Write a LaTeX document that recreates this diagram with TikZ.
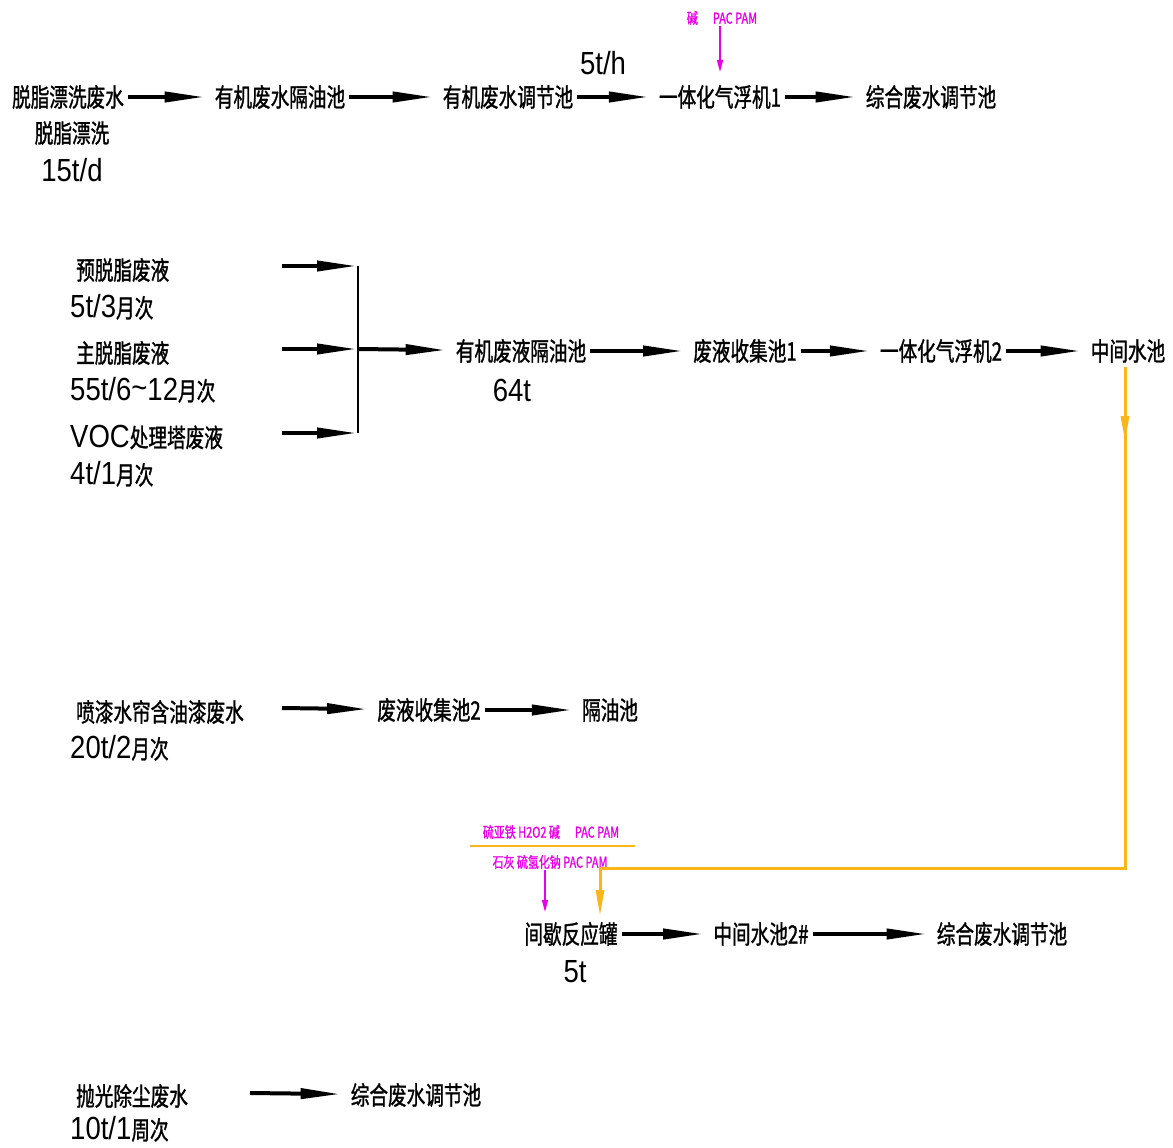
\documentclass[tikz,border=0pt]{standalone}
\usepackage{fontspec}
\usepackage{xcolor}
\usepackage{tikz}
\usetikzlibrary{arrows.meta,positioning,calc}
\newfontfamily\cjk{Noto Sans CJK SC}[FakeStretch=0.73, FakeBold=1.2]
\newfontfamily\cad{Liberation Sans}[FakeStretch=0.86]
\definecolor{dose}{RGB}{232,0,232}
\definecolor{cheng}{RGB}{250,182,24}
% quantities in the thin narrow figures
\newcommand{\amt}[1]{{\fontsize{32}{34}\selectfont\cad #1}}

\begin{document}
\begin{tikzpicture}[x=1pt, y=-1pt,
    every node/.style={font=\cjk\fontsize{25.5}{28}\selectfont, inner sep=4pt},
    flow/.style={line width=4pt, shorten >=6pt, -{Triangle[length=40pt,width=10pt]}},
    oline/.style={cheng, line width=3pt},
    otip/.style={-{Triangle[length=26pt,width=8pt]}},
    dosing/.style={dose, line width=1.5pt, -{Triangle[length=12pt,width=6pt]}},
    chem/.style={dose, font=\cjk\fontsize{15}{17}\selectfont, inner sep=1pt}]
  \useasboundingbox (0,0) rectangle (1173,1148);

  % degreasing rinse line
  \node (rinse) at (68,97) {脱脂漂洗废水};
  \node at (72,133) {脱脂漂洗};
  \node at (72,170) {\amt{15t/d}};
  \node (sep1) at (280,97) {有机废水隔油池};
  \node (eq1) at (508,97) {有机废水调节池};
  \node (flot1) at (720,97) {一体化气浮机1};
  \node (mix1) at (931,97) {综合废水调节池};
  \node at (603,63) {\amt{5t/h}};
  \node[chem] (ch1) at (722,18) {碱\quad PAC PAM};
  \coordinate (d1) at (720,72);
  \draw[flow] (rinse) -- (sep1);
  \draw[flow] (sep1) -- (eq1);
  \draw[flow] (eq1) -- (flot1);
  \draw[flow] (flot1) -- (mix1);
  \draw[dosing] (ch1.south -| d1) -- (d1);

  % spent degreasing baths
  \node[anchor=west] (pre) at (72,270) {预脱脂废液};
  \node[anchor=west] at (66,307) {\amt{5t/3}月次};
  \node[anchor=west] (main) at (72,353) {主脱脂废液};
  \node[anchor=west] at (66,390) {\amt{55t/6\raisebox{2pt}{\char"007E}12}月次};
  \node[anchor=west] (voc) at (66,437) {\amt{VOC}处理塔废液};
  \node[anchor=west] at (66,474) {\amt{4t/1}月次};
  \coordinate (s1) at (282,266);
  \coordinate (s2) at (282,349);
  \coordinate (s3) at (282,433);
  \coordinate (j1) at (358,266);
  \coordinate (j2) at (358,349);
  \coordinate (j3) at (358,433);
  \draw[flow, shorten >=1pt] (s1) -- (j1);
  \draw[flow, shorten >=1pt] (s2) -- (j2);
  \draw[flow, shorten >=1pt] (s3) -- (j3);
  \draw[line width=2.5pt] (j1) -- (j3);
  \node (sep2) at (521,351) {有机废液隔油池};
  \node at (512,390) {\amt{64t}};
  \node (col1) at (745,351) {废液收集池1};
  \node (flot2) at (941,351) {一体化气浮机2};
  \node (mid) at (1128,351) {中间水池};
  \draw[flow] (j2) -- (sep2);
  \draw[flow] (sep2) -- (col1);
  \draw[flow] (col1) -- (flot2);
  \draw[flow] (flot2) -- (mid);

  % paint booth water
  \node[anchor=west] (paint) at (72,712) {喷漆水帘含油漆废水};
  \node[anchor=west] at (66,748) {\amt{20t/2}月次};
  \coordinate (s4) at (282,708);
  \node (col2) at (429,710) {废液收集池2};
  \node (sep3) at (610,710) {隔油池};
  \draw[flow] (s4) -- (col2);
  \draw[flow] (col2) -- (sep3);

  % batch reactor
  \node[chem] (ch2) at (551,832) {硫亚铁 H2O2 碱\quad PAC PAM};
  \draw[cheng, line width=1.5pt] (470,846) -- (635,846);
  \node[chem] (ch3) at (550,862) {石灰 硫氢化钠 PAC PAM};
  \node (react) at (571,934) {间歇反应罐};
  \node at (575,972) {\amt{5t}};
  \node (mid2) at (761,934) {中间水池2\#};
  \node (mix2) at (1002,934) {综合废水调节池};
  \coordinate (d2) at (545,912);
  \draw[dosing] (ch3.south -| d2) -- (d2);
  \draw[flow] (react) -- (mid2);
  \draw[flow] (mid2) -- (mix2);

  % transfer from the middle tank
  \coordinate (o1) at (1125,442);
  \coordinate (turn) at (1125,868);
  \coordinate (drop) at (600,868);
  \draw[oline] (mid.south -| o1) -- (turn) -- (drop);
  \draw[oline, otip] (mid.south -| o1) -- (o1);
  \draw[oline, otip] (drop) -- (600,916);

  % polishing dust
  \node[anchor=west] (dust) at (72,1096) {抛光除尘废水};
  \node[anchor=west] at (66,1129) {\amt{10t/1}周次};
  \coordinate (s5) at (250,1093);
  \node (mix3) at (416,1095) {综合废水调节池};
  \draw[flow] (s5) -- (mix3);
\end{tikzpicture}
\end{document}
